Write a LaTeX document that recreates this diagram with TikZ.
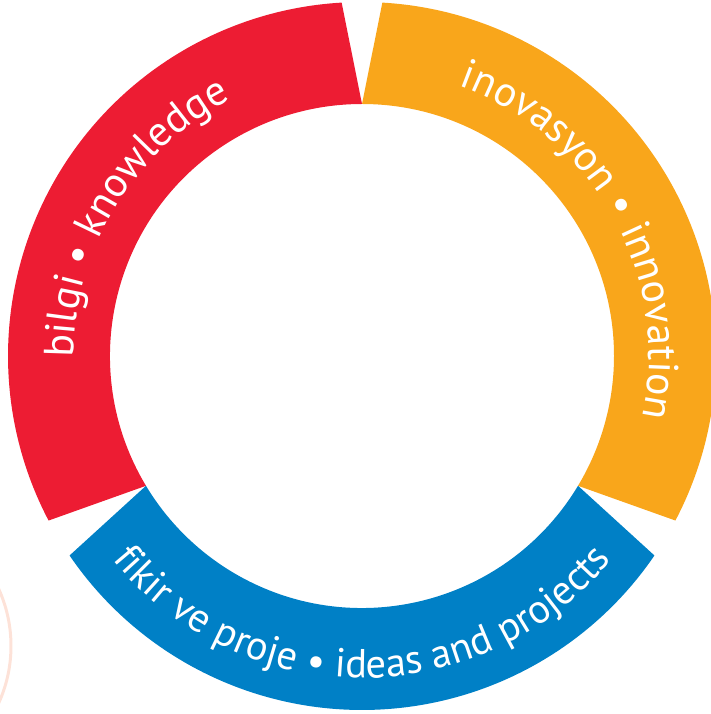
\documentclass[tikz,border=0pt]{standalone}
\usepackage{fontspec}
\setmainfont{PT Sans}
\usetikzlibrary{decorations.text}
\definecolor{ringred}{RGB}{237, 28, 51}
\definecolor{ringorange}{RGB}{249, 166, 27}
\definecolor{ringblue}{RGB}{0, 128, 198}
\definecolor{ringpink}{RGB}{253, 226, 216}
\newcommand{\ringfont}[1]{\color{white}\fontsize{#1}{#1}\selectfont}
\tikzset{ringtext/.style={decorate, decoration={text along path, text align=center, text={#1}}}}

\begin{document}
\begin{tikzpicture}[x=1pt, y=1pt]
    \useasboundingbox (-362,-358) rectangle (348,356);
    \draw[ringpink, line width=3pt] (-489,-290) circle (138);
    \fill[ringred] (90:252) -- (93.3:354) arc[start angle=93.3, end angle=207.7, radius=354] -- (211:252) arc[start angle=211, end angle=90, radius=252] -- cycle;
    \fill[ringorange] (-31:252) -- (-27.7:354) arc[start angle=-27.7, end angle=86.7, radius=354] -- (90:252) arc[start angle=90, end angle=-31, radius=252] -- cycle;
    \fill[ringblue] (211:252) -- (214.3:354) arc[start angle=214.3, end angle=325.7, radius=354] -- (329:252) arc[start angle=329, end angle=211, radius=252] -- cycle;
    \path[ringtext={|\ringfont{42}|bilgi {•} knowledge}] (181:288) arc[start angle=181, end angle=116.5, radius=288];
    \path[ringtext={|\ringfont{42}|inovasyon {•} innovation}] (72.5:287) arc[start angle=72.5, end angle=-14.5, radius=287];
    \path[ringtext={|\ringfont{40.5}|fikir ve proje {•} ideas and projects}] (215:322) arc[start angle=215, end angle=325, radius=322];
\end{tikzpicture}
\end{document}
